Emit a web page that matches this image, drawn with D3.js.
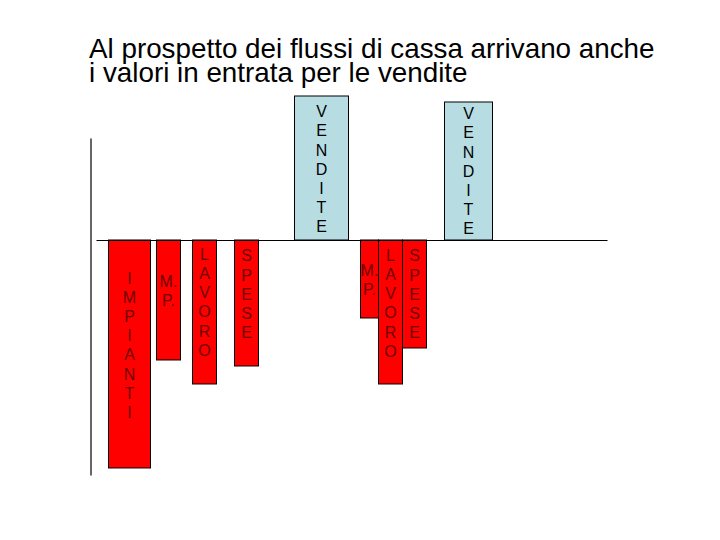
<!DOCTYPE html>
<html>
<head>
<meta charset="utf-8">
<script src="https://cdn.jsdelivr.net/npm/d3@7"></script>
<style>
  html, body { margin: 0; padding: 0; background: #ffffff; }
  svg { display: block; font-family: "Liberation Sans", Arial, sans-serif; }
</style>
</head>
<body>
<svg id="chart" width="720" height="540"></svg>
<script>
// ---- data ----
const titleLines = ["Al prospetto dei flussi di cassa arrivano anche", "i valori in entrata per le vendite"];
const categories = ["IMPIANTI", "M.P.", "LAVORO", "SPESE", "VENDITE", "M.P.", "LAVORO", "SPESE", "VENDITE"];
const values = [-38, -20, -24, -21, 24, -13, -24, -18, 23];

// ---- layout (not data) ----
const barSpans = [[108.5, 150.5], [156.5, 180.5], [192.5, 216.5], [234.5, 258.5], [294.5, 348.5],
                  [360.5, 378.5], [378.5, 402.5], [402.5, 426.5], [444.5, 492.5]];
const labelShift = [-9, -9, -10, -9, 1, 1, -9, 0, 0];

const svg = d3.select("#chart");
const x = d3.scaleLinear().domain([0, 720]).range([0, 720]);
const y = d3.scaleLinear().domain([-39.17, 17]).range([475, 138]);

// title
const title = svg.append("text").attr("x", 89).attr("fill", "#000")
  .style("font-size", "27.8px");
titleLines.forEach((t, i) => {
  title.append("tspan").attr("x", 89).attr("y", 57.5 + i * 24.5).text(t);
});

const rows = categories.map((c, i) => ({
  cat: c, v: values[i], x0: barSpans[i][0], x1: barSpans[i][1], dy: labelShift[i]
}));

// bars
svg.append("g").selectAll("rect").data(rows).join("rect")
  .attr("x", d => x(d.x0))
  .attr("width", d => x(d.x1) - x(d.x0))
  .attr("y", d => y(Math.max(0, d.v)))
  .attr("height", d => Math.abs(y(d.v) - y(0)))
  .attr("fill", d => d.v > 0 ? "#b7dde3" : "#ff0000")
  .attr("stroke", "#000").attr("stroke-width", 1);

// labels
const fs = 16, lh = 19.2, cap = 0.716 * fs;
const lg = svg.append("g").style("font-size", fs + "px").attr("text-anchor", "middle");
rows.forEach(d => {
  const lines = d.cat === "M.P." ? ["M.", "P."] : d.cat.split("");
  const cy = (y(0) + y(d.v)) / 2 + d.dy;
  const block = (lines.length - 1) * lh + cap;
  const first = cy - block / 2 + cap;
  const t = lg.append("text").attr("fill", d.v > 0 ? "#000" : "#6e0000");
  lines.forEach((l, i) => {
    t.append("tspan").attr("x", (x(d.x0) + x(d.x1)) / 2).attr("y", first + i * lh).text(l);
  });
});

// vertical axis (no ticks)
svg.append("g").attr("transform", "translate(90.5,0)")
  .call(d3.axisLeft(y).tickValues([]).tickSizeOuter(0))
  .select(".domain").attr("stroke", "#000").attr("stroke-width", 1.2);

// baseline
const xb = d3.scaleLinear().domain([96, 607]).range([x(96), x(607)]);
svg.append("g").attr("transform", `translate(0,${y(0)})`)
  .call(d3.axisBottom(xb).tickValues([]).tickSizeOuter(0))
  .select(".domain").attr("stroke", "#000").attr("stroke-width", 1.2);
</script>
</body>
</html>
